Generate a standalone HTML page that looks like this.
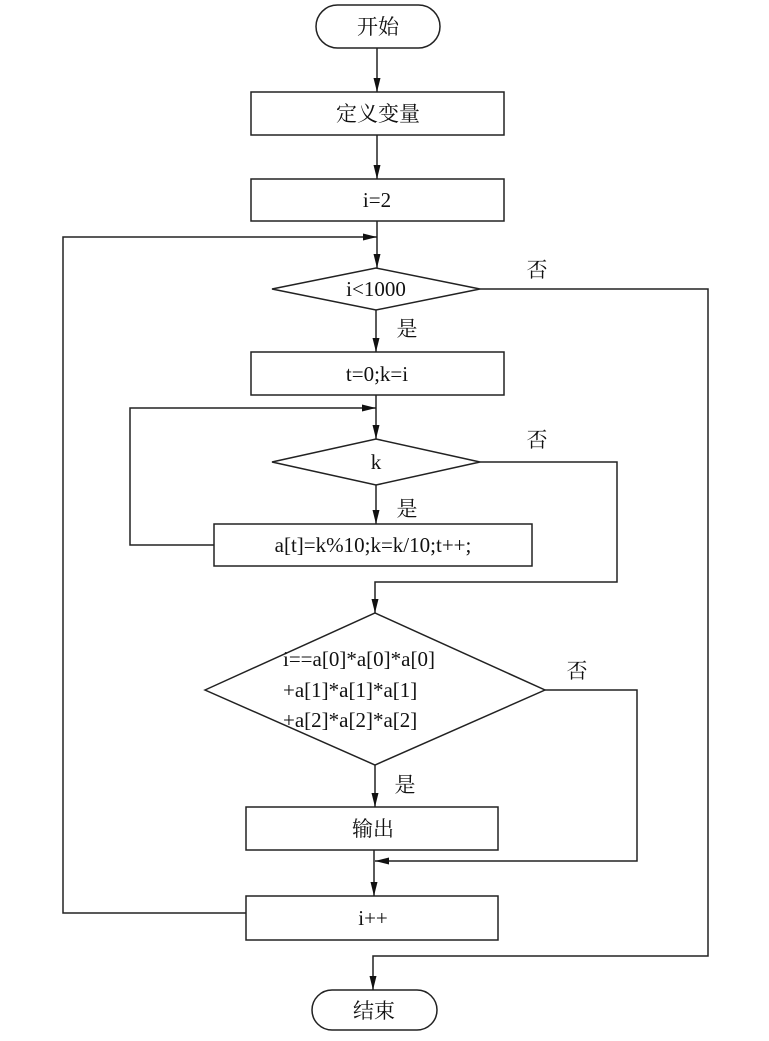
<!DOCTYPE html>
<html><head><meta charset="utf-8"><style>
body{margin:0;background:#fff;}
svg text{font-family:"Liberation Serif","Noto Serif CJK SC",serif;font-size:21px;fill:#111;text-anchor:middle;}
svg text.l{text-anchor:start;}
</style></head><body>
<svg width="769" height="1036" viewBox="0 0 769 1036" xmlns="http://www.w3.org/2000/svg">
<defs><marker id="a" markerWidth="14" markerHeight="8" refX="14" refY="4" orient="auto" markerUnits="userSpaceOnUse" viewBox="0 0 14 8"><path d="M0,0.5 L14,4 L0,7.5 z" fill="#111"/></marker></defs>
<g fill="none" stroke="#222" stroke-width="1.5">
<rect x="316" y="5" width="124" height="43" rx="21.5"/>
<rect x="251" y="92" width="253" height="43"/>
<rect x="251" y="179" width="253" height="42"/>
<polygon points="272,289 376,268 480,289 376,310"/>
<rect x="251" y="352" width="253" height="43"/>
<polygon points="272,462 376,439 480,462 376,485"/>
<rect x="214" y="524" width="318" height="42"/>
<polygon points="205,690 375,613 545,690 375,765"/>
<rect x="246" y="807" width="252" height="43"/>
<rect x="246" y="896" width="252" height="44"/>
<rect x="312" y="990" width="125" height="40" rx="20"/>
<line x1="377" y1="48" x2="377" y2="92" marker-end="url(#a)"/>
<line x1="377" y1="135" x2="377" y2="179" marker-end="url(#a)"/>
<line x1="377" y1="221" x2="377" y2="268" marker-end="url(#a)"/>
<line x1="376" y1="310" x2="376" y2="352" marker-end="url(#a)"/>
<line x1="376" y1="395" x2="376" y2="439" marker-end="url(#a)"/>
<line x1="376" y1="485" x2="376" y2="524" marker-end="url(#a)"/>
<polyline points="214,545 130,545 130,408 376,408" marker-end="url(#a)"/>
<polyline points="480,462 617,462 617,582 375,582 375,613" marker-end="url(#a)"/>
<line x1="375" y1="765" x2="375" y2="807" marker-end="url(#a)"/>
<polyline points="545,690 637,690 637,861 375,861" marker-end="url(#a)"/>
<line x1="374" y1="850" x2="374" y2="896" marker-end="url(#a)"/>
<polyline points="246,913 63,913 63,237 377,237" marker-end="url(#a)"/>
<polyline points="480,289 708,289 708,956 373,956 373,990" marker-end="url(#a)"/>
</g>
<text x="378" y="34">开始</text>
<text x="378" y="121">定义变量</text>
<text x="377" y="207">i=2</text>
<text x="376" y="296">i&lt;1000</text>
<text x="377" y="381">t=0;k=i</text>
<text x="376" y="469">k</text>
<text x="373" y="552">a[t]=k%10;k=k/10;t++;</text>
<text class="l" x="283" y="666">i==a[0]*a[0]*a[0]</text>
<text class="l" x="283" y="697">+a[1]*a[1]*a[1]</text>
<text class="l" x="283" y="727">+a[2]*a[2]*a[2]</text>
<text x="373" y="836">输出</text>
<text x="373" y="925">i++</text>
<text x="374" y="1018">结束</text>
<text x="537" y="277">否</text>
<text x="407" y="336">是</text>
<text x="537" y="447">否</text>
<text x="407" y="516">是</text>
<text x="577" y="678">否</text>
<text x="405" y="792">是</text>
</svg>
</body></html>
